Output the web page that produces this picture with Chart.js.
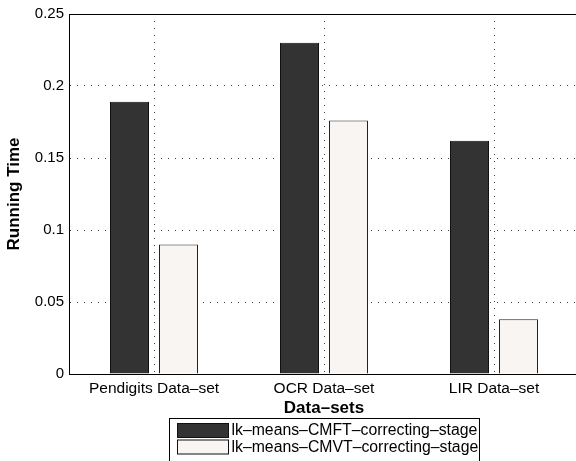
<!DOCTYPE html>
<html>
<head>
<meta charset="utf-8">
<script src="https://cdn.jsdelivr.net/npm/chart.js@4/dist/chart.umd.min.js"></script>
<style>
  html, body { margin: 0; padding: 0; background: #fff; overflow: hidden; }
  #wrap { width: 576px; height: 461px; overflow: hidden; position: relative; }
  canvas { display: block; }
</style>
</head>
<body>
<div id="wrap"><canvas id="c" width="600" height="461"></canvas></div>
<script>
// Data sets on the x axis
const categories = ['Pendigits Data–set', 'OCR Data–set', 'LIR Data–set'];
// Running time of each correcting stage
const cmftTimes = [0.189, 0.230, 0.162];
const cmvtTimes = [0.090, 0.176, 0.038];
const seriesNames = ['lk–means–CMFT–correcting–stage', 'lk–means–CMVT–correcting–stage'];
// Y axis tick labels (0, 0.05, ... 0.25)
const yTickLabels = ['0', '0.05', '0.1', '0.15', '0.2', '0.25'];

const FONT = '"Liberation Sans", Arial, Helvetica, sans-serif';

// Closed axes box plus a framed legend under the plot
const boxAndLegend = {
  id: 'boxAndLegend',
  afterDraw(chart) {
    const ctx = chart.ctx;
    const a = chart.chartArea;
    ctx.save();
    ctx.strokeStyle = '#000';
    ctx.lineWidth = 1;
    ctx.setLineDash([]);
    ctx.strokeRect(Math.round(a.left) + 0.5, Math.round(a.top) + 0.5,
                   Math.round(a.right - a.left), Math.round(a.bottom - a.top));

    // legend
    const cx = (a.left + a.right) / 2;
    const boxW = 310, boxTop = 418.5;
    const boxLeft = Math.round(cx - boxW / 2) + 0.5;
    ctx.fillStyle = '#fff';
    ctx.fillRect(boxLeft, boxTop, boxW, 60);
    ctx.strokeRect(boxLeft, boxTop, boxW, 60);
    ctx.font = '15.8px ' + FONT;
    ctx.textBaseline = 'middle';
    ctx.textAlign = 'left';
    chart.data.datasets.forEach((ds, i) => {
      const rowTop = 423.5 + i * 16.5;
      ctx.fillStyle = ds.backgroundColor;
      ctx.fillRect(boxLeft + 8, rowTop, 51, 14);
      ctx.strokeStyle = '#111';
      ctx.strokeRect(boxLeft + 8, rowTop, 51, 14);
      ctx.fillStyle = '#000';
      ctx.fillText(ds.label, boxLeft + 62, rowTop + 7.5);
    });
    ctx.restore();
  }
};

new Chart(document.getElementById('c'), {
  type: 'bar',
  data: {
    labels: categories,
    datasets: [
      {
        label: seriesNames[0],
        data: cmftTimes,
        backgroundColor: '#333333',
        borderColor: '#111111',
        borderWidth: 1,
        categoryPercentage: 0.5765,
        barPercentage: 0.796
      },
      {
        label: seriesNames[1],
        data: cmvtTimes,
        backgroundColor: '#f9f5f3',
        borderColor: '#222222',
        borderWidth: 1,
        categoryPercentage: 0.5765,
        barPercentage: 0.796
      }
    ]
  },
  options: {
    responsive: false,
    animation: false,
    devicePixelRatio: 1,
    layout: { padding: { top: 13, right: 21, left: 0, bottom: 0 } },
    plugins: {
      legend: { display: false },
      tooltip: { enabled: false }
    },
    scales: {
      x: {
        grid: { color: '#444', lineWidth: 1, drawTicks: false, offset: false },
        border: { display: true, color: '#000', width: 1, dash: [1, 6] },
        ticks: { color: '#000', font: { family: FONT, size: 15.5 }, padding: 5, maxRotation: 0 },
        title: {
          display: true, text: 'Data–sets', color: '#000',
          font: { family: FONT, size: 17, weight: 'bold' },
          padding: { top: 0, bottom: 42 }
        },
        afterFit(scale) { scale.height = 87; }
      },
      y: {
        min: 0, max: 0.25,
        grid: { color: '#444', lineWidth: 1, drawTicks: false },
        border: { display: true, color: '#000', width: 1, dash: [1, 6] },
        ticks: {
          stepSize: 0.05, color: '#000', padding: 5,
          font: { family: FONT, size: 15 },
          callback: (v, i) => yTickLabels[i]
        },
        title: {
          display: true, text: 'Running Time', color: '#000',
          font: { family: FONT, size: 17, weight: 'bold' },
          padding: { top: 4, bottom: 0 }
        },
        afterFit(scale) { scale.width = 69; }
      }
    }
  },
  plugins: [boxAndLegend]
});
</script>
</body>
</html>
